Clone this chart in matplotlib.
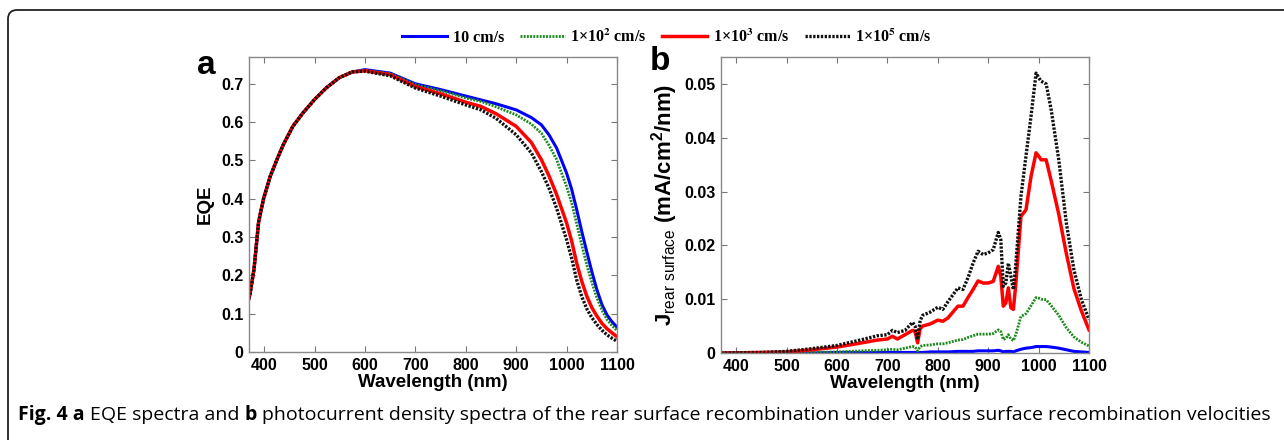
import numpy as np
import matplotlib
matplotlib.use("Agg")
import matplotlib.pyplot as plt
from matplotlib.patches import FancyBboxPatch
from matplotlib.transforms import IdentityTransform

plt.rcParams['font.family'] = ['Liberation Sans', 'DejaVu Sans']
plt.rcParams['mathtext.fontset'] = 'custom'
plt.rcParams['mathtext.rm'] = 'Liberation Sans'
plt.rcParams['mathtext.bf'] = 'Liberation Sans:bold'

# labels of the four recombination velocities
labels = ['10 cm/s', r'1×10$^{\mathbf{2}}$ cm/s', r'1×10$^{\mathbf{3}}$ cm/s',
          r'1×10$^{\mathbf{5}}$ cm/s']
colors = ['#0000ff', '#1a8a1a', '#ff0000', '#111111']

# panel a: EQE
wl_a = [370, 372, 380, 389, 399, 412, 425, 438, 457, 477, 500, 523, 549, 575, 600,
        650, 700, 750, 800, 830, 860, 900, 930, 950, 965, 980, 1000, 1010, 1020,
        1030, 1040, 1050, 1060, 1070, 1080, 1090, 1100]
eqe_short = [0.140, 0.151, 0.217, 0.339, 0.401, 0.458, 0.501, 0.541, 0.589, 0.624,
             0.659, 0.689, 0.716, 0.731]
eqe_10 = eqe_short + [0.737, 0.728, 0.700, 0.685, 0.668, 0.658, 0.648, 0.632, 0.612,
                      0.593, 0.567, 0.533, 0.467, 0.425, 0.372, 0.315, 0.262, 0.210,
                      0.163, 0.124, 0.097, 0.079, 0.065]
eqe_1e2 = eqe_short + [0.735, 0.727, 0.698, 0.682, 0.663, 0.654, 0.640, 0.619, 0.595,
                       0.571, 0.540, 0.503, 0.432, 0.390, 0.335, 0.280, 0.228, 0.182,
                       0.142, 0.110, 0.085, 0.069, 0.056]
eqe_1e3 = eqe_short + [0.734, 0.724, 0.693, 0.674, 0.652, 0.641, 0.622, 0.589, 0.547,
                       0.502, 0.460, 0.412, 0.337, 0.290, 0.232, 0.185, 0.146, 0.116,
                       0.094, 0.075, 0.061, 0.050, 0.040]
eqe_1e5 = eqe_short + [0.733, 0.721, 0.689, 0.668, 0.645, 0.632, 0.610, 0.567, 0.520,
                       0.471, 0.428, 0.376, 0.293, 0.245, 0.188, 0.145, 0.113, 0.090,
                       0.072, 0.057, 0.045, 0.036, 0.028]

# panel b: rear surface photocurrent density (mA/cm2/nm)
wl_b = [370, 450, 500, 550, 600, 650, 680, 700, 710, 720, 735, 750, 755, 760, 765, 770,
        785, 800, 810, 820, 840, 850, 860, 870, 880, 890, 900, 910, 920, 925, 930, 935,
        940, 945, 950, 955, 965, 975, 985, 995, 1000, 1005, 1015, 1025, 1040, 1055,
        1070, 1085, 1100]
j_10 = [0, 0, 0, 0, 0.0001, 0.0001, 0.0001, 0.0001, 0.0001, 0.0001, 0.0001, 0.0001,
        0.0001, 0.0001, 0.0001, 0.0001, 0.0002, 0.0002, 0.0002, 0.0002, 0.0003, 0.0003,
        0.0003, 0.0003, 0.0004, 0.0004, 0.0004, 0.0004, 0.0005, 0.0004, 0.0002, 0.0003,
        0.0003, 0.0003, 0.0002, 0.0004, 0.0007, 0.0009, 0.0010, 0.0012, 0.0012, 0.0012,
        0.0012, 0.0011, 0.0009, 0.0006, 0.0003, 0.0002, 0.0001]
j_1e2 = [0, 0, 0.0001, 0.0001, 0.0002, 0.0004, 0.0005, 0.0006, 0.0007, 0.0006, 0.0009,
         0.0012, 0.0011, 0.0004, 0.0012, 0.0014, 0.0015, 0.0017, 0.0017, 0.0019, 0.0024,
         0.0025, 0.0029, 0.0032, 0.0035, 0.0035, 0.0035, 0.0036, 0.0043, 0.0040, 0.0025,
         0.0027, 0.0034, 0.0026, 0.0023, 0.0035, 0.0068, 0.0073, 0.0088, 0.0103, 0.0102,
         0.0100, 0.0099, 0.0088, 0.0070, 0.0047, 0.0030, 0.0020, 0.0013]
j_1e3 = [0, 0.0001, 0.0002, 0.0006, 0.0011, 0.0019, 0.0024, 0.0026, 0.0031, 0.0026,
         0.0034, 0.0042, 0.0040, 0.0019, 0.0045, 0.0050, 0.0054, 0.0061, 0.0059, 0.0065,
         0.0087, 0.0087, 0.0103, 0.0118, 0.0134, 0.0130, 0.0130, 0.0133, 0.0161, 0.0143,
         0.0087, 0.0093, 0.0121, 0.0084, 0.0081, 0.0130, 0.0254, 0.0266, 0.0328, 0.0372,
         0.0366, 0.0359, 0.0359, 0.0320, 0.0258, 0.0185, 0.0120, 0.0078, 0.0043]
j_1e5 = [0, 0.0001, 0.0003, 0.0008, 0.0014, 0.0025, 0.0032, 0.0034, 0.0042, 0.0038,
         0.0042, 0.0057, 0.0050, 0.0025, 0.0060, 0.0070, 0.0076, 0.0085, 0.0081, 0.0095,
         0.0121, 0.0118, 0.0140, 0.0167, 0.0189, 0.0183, 0.0186, 0.0192, 0.0224, 0.0211,
         0.0124, 0.0130, 0.0167, 0.0143, 0.0118, 0.0167, 0.0291, 0.0366, 0.0440, 0.0520,
         0.0512, 0.0505, 0.0500, 0.0452, 0.0359, 0.0242, 0.0155, 0.0099, 0.0062]

styles = [dict(ls='-', lw=2.2), dict(ls=(0, (0.7, 0.45)), lw=2.0),
          dict(ls='-', lw=2.5), dict(ls=(0, (0.7, 0.45)), lw=2.4)]

fig = plt.figure(figsize=(12.84, 4.4), dpi=100)
ax1 = fig.add_axes([249/1284, 88/440, 368/1284, 295/440])
ax2 = fig.add_axes([721/1284, 87/440, 368/1284, 296/440])

handles = []
for y, c, st, lab in zip([eqe_10, eqe_1e2, eqe_1e3, eqe_1e5], colors, styles, labels):
    h, = ax1.plot(wl_a, y, color=c, label=lab, **st)
    handles.append(h)
for y, c, st in zip([j_10, j_1e2, j_1e3, j_1e5], colors, styles):
    ax2.plot(wl_b, y, color=c, **st)

ax1.set_xlim(370, 1100)
ax1.set_ylim(0, 0.77)
ax1.set_yticks([0, 0.1, 0.2, 0.3, 0.4, 0.5, 0.6, 0.7])
ax1.set_yticklabels(['0', '0.1', '0.2', '0.3', '0.4', '0.5', '0.6', '0.7'])
ax2.set_xlim(370, 1100)
ax2.set_ylim(0, 0.055)
ax2.set_yticks([0, 0.01, 0.02, 0.03, 0.04, 0.05])
ax2.set_yticklabels(['0', '0.01', '0.02', '0.03', '0.04', '0.05'])

for ax in (ax1, ax2):
    ax.set_xticks(range(400, 1101, 100))
    ax.tick_params(direction='in', top=True, right=True, length=4, color='#777777',
                   labelsize=11.5, pad=4)
    for lb in ax.get_xticklabels() + ax.get_yticklabels():
        lb.set_fontweight('bold')
    for sp in ax.spines.values():
        sp.set_color('#888888')
        sp.set_linewidth(1.0)
    ax.set_xlabel('Wavelength (nm)', fontsize=13.5, fontweight='bold', labelpad=1)

ax1.set_ylabel('EQE', fontsize=13.5, fontweight='bold', labelpad=5)
ax2.set_ylabel(r'$\mathbf{J}_{\mathrm{rear\ surface}}$ (mA/cm$^{\mathbf{2}}$/nm)',
               fontsize=16, fontweight='bold', labelpad=3)

fig.text(197/1284, 1 - 66/440, 'a', fontsize=24, fontweight='bold', va='center')
fig.text(650/1284, 1 - 62/440, 'b', fontsize=24, fontweight='bold', va='center')

fig.legend(handles=handles, loc='center', bbox_to_anchor=(667/1284, 1 - 37/440), ncol=4,
           frameon=False, handlelength=2.8, handletextpad=0.35, columnspacing=1.0,
           prop={'family': ['Liberation Serif', 'DejaVu Serif'], 'weight': 'bold',
                 'size': 11.5, 'math_fontfamily': 'stix'})

# rounded frame, right and bottom cut by the image edge
frame = FancyBboxPatch((8, -30), 1320, 460, boxstyle='round,pad=0,rounding_size=9',
                       transform=IdentityTransform(), fill=False, ec='#222222', lw=1.3)
fig.patches.append(frame)

# caption with mixed weights, placed word group by word group
cap_parts = [('Fig. 4 a', 'bold'), ('EQE spectra and', 'normal'), ('b', 'bold'),
             ('photocurrent density spectra of the rear surface recombination under '
              'various surface recombination velocities', 'normal')]
renderer = fig.canvas.get_renderer()
cap_kw = dict(fontsize=14, family='Open Sans', va='baseline', ha='left')
tmp1 = fig.text(0, 0, 'x x', **cap_kw)
tmp2 = fig.text(0, 0, 'xx', **cap_kw)
space_w = tmp1.get_window_extent(renderer).width - tmp2.get_window_extent(renderer).width
tmp1.remove()
tmp2.remove()
x = 18
for s, w in cap_parts:
    t = fig.text(x/1284, 1 - 420/440, s, fontweight=w, **cap_kw)
    x += t.get_window_extent(renderer).width + space_w

fig.savefig('out.png', dpi=100)
